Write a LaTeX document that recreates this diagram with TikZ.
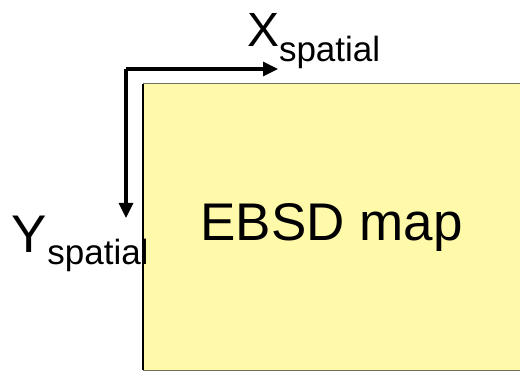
\documentclass[tikz,border=0pt]{standalone}
\usepackage{fontspec}
\setmainfont{Liberation Sans}
\usetikzlibrary{arrows.meta,positioning}
\definecolor{mapfill}{RGB}{255,250,170}
\definecolor{mapedge}{RGB}{110,110,90}
% #1 main letter, #2 its size, #3 drop of the subscript
\newcommand{\axlabel}[3]{{\fontsize{#2}{#2}\selectfont #1}\raisebox{-#3}{\fontsize{35}{35}\selectfont spatial}}

\begin{document}
\begin{tikzpicture}[x=1pt, y=-1pt, >={Triangle[length=15pt,width=14pt]},
  axis/.style={->, line width=3.2pt},
  every node/.style={inner sep=0pt, outer sep=0pt}]
\useasboundingbox (0,0) rectangle (520,371);
\node (map) [fill=mapfill, minimum width=377pt, minimum height=286pt, anchor=north west,
  font=\fontsize{53}{53}\selectfont] at (143,84) {EBSD map};
\draw[mapedge, line width=1pt] (map.north east) -- (map.north west);
\draw[mapedge, line width=0.8pt] (map.south west) -- (map.south east);
\draw[line width=2pt] (map.north west) -- (map.south west);
\coordinate (origin) at (126,69);
\coordinate (xend) at (278,69);
\coordinate (yend) at (126,218);
\draw[axis] (origin.center) -- (xend);
\draw[axis] (origin.center) -- (yend);
\node (xlab) [anchor=base west] at (247,47) {\axlabel{X}{48}{15pt}};
\node (ylab) [anchor=base west] at (12,253) {\axlabel{Y}{53}{12pt}};
\end{tikzpicture}
\end{document}
